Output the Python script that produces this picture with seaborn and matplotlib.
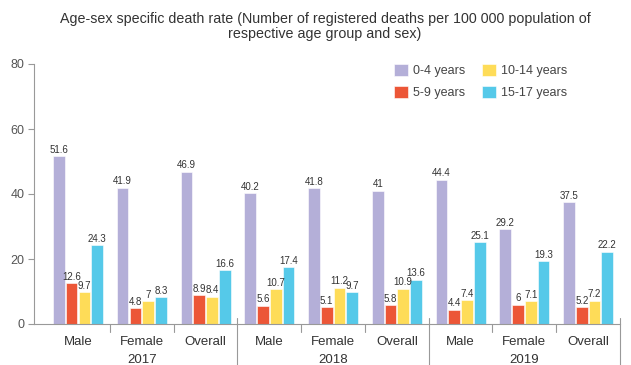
import pandas as pd
import seaborn as sns
import matplotlib.pyplot as plt
import matplotlib.transforms as mtransforms

# categories
years = ["2017", "2018", "2019"]
sexes = ["Male", "Female", "Overall"]
ages = ["0-4 years", "5-9 years", "10-14 years", "15-17 years"]

# death rate per age group, order: Male/Female/Overall for 2017, 2018, 2019
rate_0_4 = [51.6, 41.9, 46.9, 40.2, 41.8, 41, 44.4, 29.2, 37.5]
rate_5_9 = [12.6, 4.8, 8.9, 5.6, 5.1, 5.8, 4.4, 6, 5.2]
rate_10_14 = [9.7, 7, 8.4, 10.7, 11.2, 10.9, 7.4, 7.1, 7.2]
rate_15_17 = [24.3, 8.3, 16.6, 17.4, 9.7, 13.6, 25.1, 19.3, 22.2]

colors = ["#b4afd8", "#ec5637", "#fedc58", "#55c9e9"]

groups = [s + " " + y for y in years for s in sexes]
rows = []
for age, vals in zip(ages, [rate_0_4, rate_5_9, rate_10_14, rate_15_17]):
    for g, v in zip(groups, vals):
        rows.append({"group": g, "age": age, "rate": v})
df = pd.DataFrame(rows)

sns.set_style("white")
plt.rcParams["font.family"] = ["Liberation Sans", "DejaVu Sans"]

fig = plt.figure(figsize=(6.31, 3.65), dpi=100)
ax = fig.add_axes([34 / 631, 41 / 365, 586 / 631, 260 / 365])

sns.barplot(data=df, x="group", y="rate", hue="age", order=groups, hue_order=ages,
            palette=colors, width=0.8, gap=0.08, saturation=1, ax=ax,
            edgecolor="white", linewidth=0.4)

# value labels
for cont in ax.containers:
    ax.bar_label(cont, labels=[f"{v:g}" for v in cont.datavalues],
                 fontsize=7, color="#333333", padding=1)

ax.set_ylim(0, 80)
ax.set_yticks([0, 20, 40, 60, 80])
ax.set_xlim(-0.69, len(groups) - 0.5)
ax.set_xlabel("")
ax.set_ylabel("")

ax.set_xticks(range(len(groups)))
ax.set_xticklabels(sexes * len(years))
ax.tick_params(axis="x", length=0, pad=8.5, labelsize=9.5, labelcolor="#333333")
ax.tick_params(axis="y", length=4, width=0.8, color="#999999", pad=3,
               labelsize=9, labelcolor="#555555", left=True)

for side in ["top", "right"]:
    ax.spines[side].set_visible(False)
for side in ["left", "bottom"]:
    ax.spines[side].set_color("#999999")
    ax.spines[side].set_linewidth(0.8)

# group separators and year labels below the axis
trans = mtransforms.blended_transform_factory(ax.transData, ax.transAxes)
for i in range(len(groups)):
    xs = i + 0.5
    if (i + 1) % len(sexes) == 0:
        ax.plot([xs, xs], [0.023, -0.16], transform=trans, color="#999999",
                lw=0.8, clip_on=False)
    else:
        ax.plot([xs, xs], [0, -0.031], transform=trans, color="#999999",
                lw=0.8, clip_on=False)
for j, y in enumerate(years):
    ax.text(j * len(sexes) + 1, -0.138, y, transform=trans, ha="center",
            va="center", fontsize=9.5, color="#333333")

ax.legend(ncol=2, frameon=False, loc="upper left", bbox_to_anchor=(0.595, 1.045),
          fontsize=9, handlelength=1.1, handleheight=1.1, handletextpad=0.4,
          columnspacing=1.4, labelspacing=0.72, labelcolor="#444444")

fig.text(0.515, 0.927, "Age-sex specific death rate (Number of registered deaths per 100 000 population of\nrespective age group and sex)",
         ha="center", va="center", fontsize=10.3, color="#333333", linespacing=1.1)

fig.savefig("out.png", dpi=100)
